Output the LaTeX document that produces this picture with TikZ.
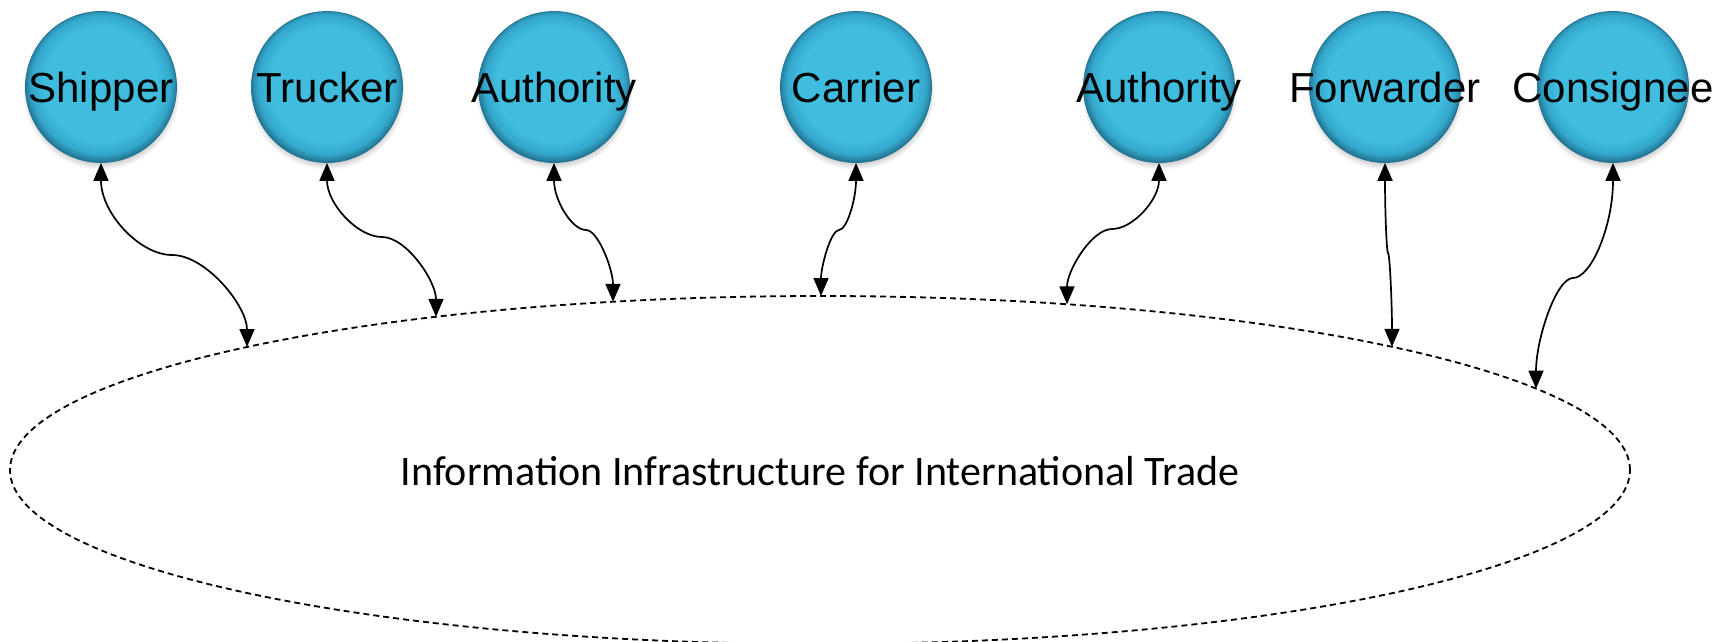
\documentclass[tikz,border=0pt]{standalone}
\usepackage{fontspec}
\setmainfont{Liberation Sans}
\newfontfamily\carlito{Carlito}
\usetikzlibrary{arrows.meta,shadows,shapes.geometric,calc,fadings}

% bubble colours: flat cyan face with a darker rim
% (the path's bounding box maps onto the inner 50bp square, so the rim is at 25bp)
\definecolor{bubbleA}{RGB}{63,188,222}
\definecolor{bubbleB}{RGB}{52,168,204}
\definecolor{bubbleC}{RGB}{34,116,146}
\pgfdeclareradialshading{bubble}{\pgfpoint{0bp}{1.5bp}}{%
  color(0bp)=(bubbleA); color(19bp)=(bubbleA);
  color(23bp)=(bubbleB); color(25.5bp)=(bubbleC); color(50bp)=(bubbleC)}

\tikzset{
  party/.style={circle, minimum size=151pt, inner sep=0pt, shading=bubble,
    draw=bubbleC, line width=0.8pt,
    circular drop shadow={shadow xshift=0pt, shadow yshift=-4pt,
      shadow scale=1.04, opacity=0.6}},
  partyname/.style={font=\fontsize{42}{50}\selectfont, anchor=base, inner sep=0pt},
  link/.style={line width=1.7pt,
    arrows={Triangle[length=18pt,width=15pt]-Triangle[length=18pt,width=15pt]}},
  infra/.style={ellipse, draw, dash pattern=on 6pt off 4pt, line width=1.8pt,
    minimum width=1620pt, minimum height=348pt, inner sep=0pt},
}

% point on the upper rim of the infrastructure ellipse at a given x
\newcommand\rimpoint[2]{%
  \coordinate (#1) at (#2, {470-174*sqrt(1-((#2-820)/810)*((#2-820)/810))});}

% S-shaped two-way connector: party -> bend point -> rim point
\newcommand\tradelink[3]{%
  \draw[link] let \p1=(#1.south), \p2=(#2), \p3=(#3) in
    (\p1) .. controls (\x1,{\y1+0.55*((\y2)-(\y1))}) and ({\x2-0.45*((\x2)-(\x1))},\y2) .. (\p2)
          .. controls ({\x2+0.45*((\x3)-(\x2))},\y2) and (\x3,{\y2+0.55*((\y3)-(\y2))}) .. (\p3);}

\begin{document}
\begin{tikzpicture}[x=1pt,y=-1pt]
\useasboundingbox (0,0) rectangle (1731,642);
\clip (0,0) rectangle (1731,642);

% shared trade information infrastructure
\node[infra] (infra) at (820,470) {};
\node[font=\carlito\fontsize{42}{50}\selectfont, anchor=base, inner sep=0pt] (title)
  at (820,485) {Information Infrastructure for International Trade};

% trade parties
\foreach \name/\x/\txt in {shipper/101/Shipper, trucker/327/Trucker,
    authA/554/Authority, carrier/856/Carrier, authB/1159/Authority,
    forwarder/1385/Forwarder, consignee/1613/Consignee}{
  \node[party] (\name) at (\x,87) {};
  \node[partyname] (\name-t) at (\x,102) {\txt};
}

% bend points of the connectors
\coordinate (k1) at (172,255);
\coordinate (k2) at (382,237);
\coordinate (k3) at (586,230);
\coordinate (k4) at (839,230);
\coordinate (k5) at (1112,229);
\coordinate (k6) at (1388,253);
\coordinate (k7) at (1573,278);

% where the connectors meet the ellipse
\rimpoint{e1}{247}
\rimpoint{e2}{436}
\rimpoint{e3}{613}
\rimpoint{e4}{821}
\rimpoint{e5}{1067}
\rimpoint{e6}{1392}
\rimpoint{e7}{1536}

\tradelink{shipper}{k1}{e1}
\tradelink{trucker}{k2}{e2}
\tradelink{authA}{k3}{e3}
\tradelink{carrier}{k4}{e4}
\tradelink{authB}{k5}{e5}
\tradelink{forwarder}{k6}{e6}
\tradelink{consignee}{k7}{e7}
\end{tikzpicture}
\end{document}
